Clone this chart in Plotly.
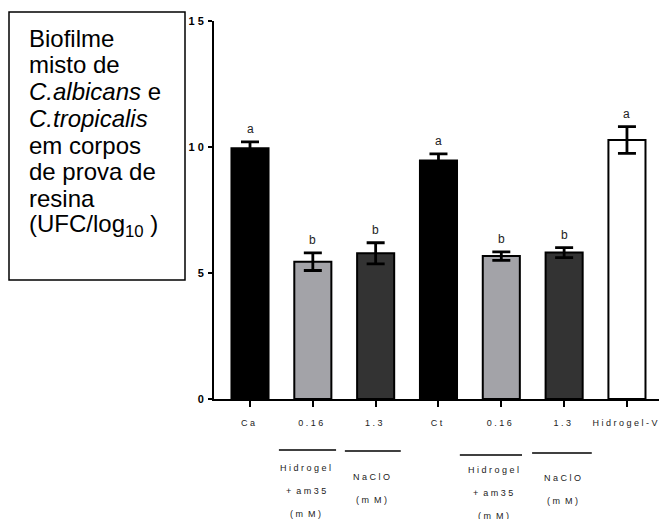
import plotly.graph_objects as go

# ---------------- data ----------------
categories = ["Ca", "0.16", "1.3", "Ct", "0.16", "1.3", "Hidrogel - V"]
tick_labels = ["C a", "0 . 1 6", "1 . 3", "C t", "0 . 1 6", "1 . 3", "H i d r o g e l - V"]
values = [9.95, 5.45, 5.78, 9.46, 5.67, 5.81, 10.28]
errors = [0.25, 0.35, 0.42, 0.27, 0.17, 0.20, 0.53]
letters = ["a", "b", "b", "a", "b", "b", "a"]
y_ticks = [0, 5, 10, 15]
y_tick_labels = ["0", "5", "1 0", "1 5"]
group_texts = [
    ["H i d r o g e l", "+  a m 3 5", "( m  M )"],
    ["N a C l O", "( m  M )"],
    ["H i d r o g e l", "+  a m 3 5", "( m  M )"],
    ["N a C l O", "( m  M )"],
]
box_lines = [
    "Biofilme",
    "misto de",
    "<i>C.albicans</i> e",
    "<i>C.tropicalis</i>",
    "em corpos",
    "de prova de",
    "resina",
    "(UFC/log<sub>10</sub> )",
]

# ---------------- style / layout ----------------
W, H = 659, 519
L, R, T = 214, 0, 21
B = H - 399
PW, PH = W - L - R, H - T - B
FONT = "Liberation Sans, Arial, sans-serif"
fills = ["#000000", "#a3a3a8", "#333333", "#000000", "#a3a3a8", "#333333", "#ffffff"]


def px2x(p):
    return (p - L) / PW


def py2y(p):
    return (H - B - p) / PH


xpos = list(range(len(categories)))

fig = go.Figure()
fig.add_trace(go.Bar(
    x=xpos,
    y=values,
    width=0.59,
    marker=dict(color=fills, line=dict(color="#000000", width=2)),
    error_y=dict(type="data", array=errors, visible=True, color="#000000",
                 thickness=2.8, width=9),
    hoverinfo="skip",
))

annotations = []
for i, (v, e, t) in enumerate(zip(values, errors, letters)):
    annotations.append(dict(x=i, y=v + e, xref="x", yref="y", text=t, showarrow=False,
                            yanchor="middle", yshift=13,
                            font=dict(family=FONT, size=12, color="#222222")))

# group labels under the axis
group_x = [0.89, 1.94, 3.87, 4.97]
group_top = [468, 477, 470, 478]
for gx, gy, lines in zip(group_x, group_top, group_texts):
    for k, ln in enumerate(lines):
        annotations.append(dict(x=gx, y=py2y(gy + k * 23), xref="x", yref="paper",
                                text=ln, showarrow=False, xanchor="center", yanchor="middle",
                                font=dict(family=FONT, size=9, color="#222222")))

# text box lines
for k, ln in enumerate(box_lines):
    annotations.append(dict(x=px2x(27), y=py2y(38 + k * 26.8), xref="paper", yref="paper",
                            text=ln, showarrow=False, xanchor="left", yanchor="middle",
                            font=dict(family=FONT, size=24, color="#000000")))

shapes = [
    dict(type="rect", xref="paper", yref="paper", x0=px2x(9), x1=px2x(185),
         y0=py2y(280), y1=py2y(12), line=dict(color="#000000", width=1.5)),
]
group_lines = [(0.46, 1.37, 450), (1.51, 2.40, 451), (3.34, 4.33, 455), (4.49, 5.44, 453)]
for x0, x1, yy in group_lines:
    shapes.append(dict(type="line", xref="x", yref="paper", x0=x0, x1=x1,
                       y0=py2y(yy), y1=py2y(yy), line=dict(color="#000000", width=1.5)))

fig.update_layout(
    width=W, height=H,
    margin=dict(l=L, r=R, t=T, b=B, pad=0),
    paper_bgcolor="#ffffff", plot_bgcolor="#ffffff",
    showlegend=False,
    hovermode=False,
    annotations=annotations,
    shapes=shapes,
    xaxis=dict(range=[-0.573, 6.51], tickvals=xpos, ticktext=tick_labels,
               showline=True, linecolor="#000000", linewidth=2,
               ticks="outside", ticklen=6, tickwidth=2, tickcolor="#000000",
               showgrid=False, zeroline=False, ticklabelstandoff=8,
               ticklabeloverflow="allow", ticklabelshift=-2,
               tickfont=dict(family=FONT, size=9, color="#222222")),
    yaxis=dict(range=[0, 15], tickvals=y_ticks, ticktext=y_tick_labels,
               showline=True, linecolor="#000000", linewidth=2,
               ticks="outside", ticklen=4, tickwidth=2, tickcolor="#000000",
               showgrid=False, zeroline=False, ticklabelstandoff=2,
               tickfont=dict(family=FONT, size=11, color="#000000", weight="bold")),
)

fig.write_html(
    "out.html",
    config={"displayModeBar": False, "staticPlot": True},
    post_script="document.body.style.margin='0';document.body.style.overflow='hidden';",
)
